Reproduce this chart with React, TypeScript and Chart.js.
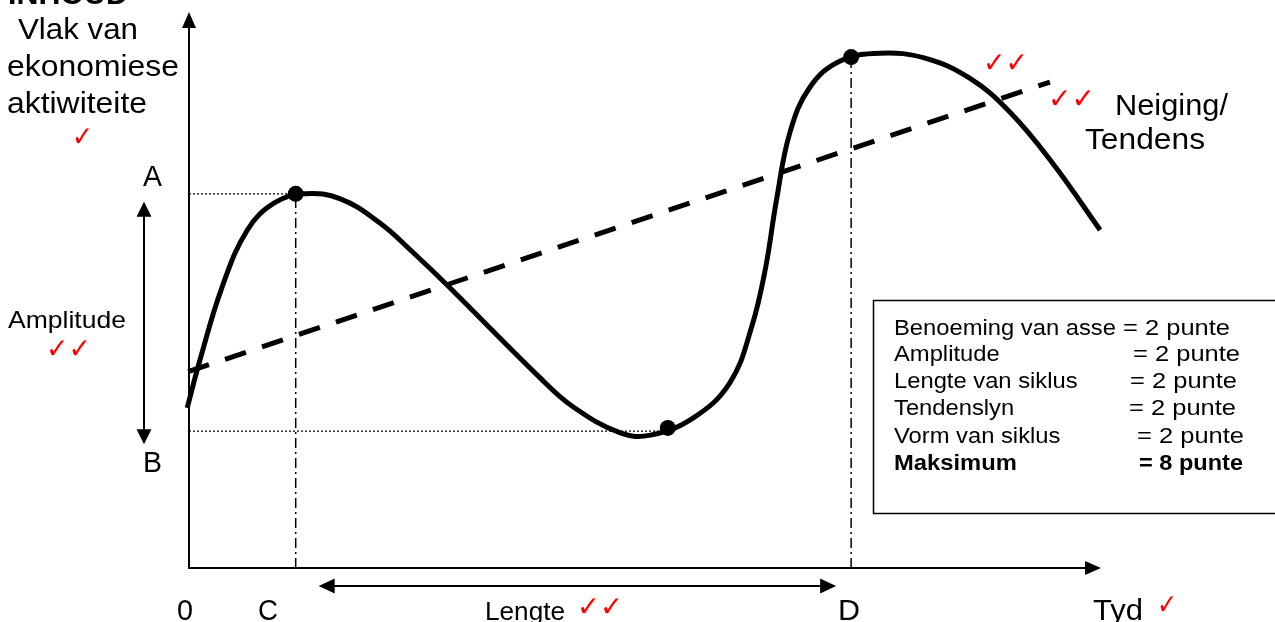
import React, { useEffect, useRef } from "react";
import { Chart, registerables } from "chart.js";

Chart.register(...registerables);

// ---- Data (time on x: 0..100, economic activity on y: 0..100) ----
const cycleX = [-0.2, 1.2, 3.6, 6.4, 9.4, 12.7, 16.6, 20.9, 24.6, 28.3, 38.5, 42.1, 47.3, 50.6, 55.3, 59.3, 61.7, 63.2, 64.4, 65.9, 68.1, 71.4, 75.8, 80.7, 85.6, 90.0, 94.7, 99.9];
const cycleY = [28.8, 37.4, 50.4, 60.8, 65.7, 67.3, 66.4, 62.1, 56.7, 50.9, 34.2, 29.0, 24.3, 23.9, 27.0, 33.3, 43.4, 53.8, 66.0, 78.4, 86.5, 91.2, 92.6, 91.7, 88.1, 82.0, 72.8, 60.8];

const trendX = [-0.1, 94.4];
const trendY = [35.3, 87.4];

const turningX = [11.7, 52.5, 72.6];
const turningY = [67.3, 25.2, 91.9];

const levelA = 67.3;
const levelB = 24.6;
const levelBEndX = 51.6;
const timeC = 11.7;
const timeD = 72.6;

const yAxisLabel = ["Vlak van", "ekonomiese", "aktiwiteite"];
const markRows = ["Benoeming van asse", "Amplitude", "Lengte van siklus", "Tendenslyn", "Vorm van siklus"];
const markPoints = ["= 2 punte", "= 2 punte", "= 2 punte", "= 2 punte", "= 2 punte"];
const markTotalLabel = "Maksimum";
const markTotal = "= 8 punte";

const FONT = '"Liberation Sans", Arial, sans-serif';
const CHECK_FONT = '"DejaVu Sans", sans-serif';

function txt(
  ctx: CanvasRenderingContext2D,
  s: string,
  x: number,
  y: number,
  size: number,
  o: { bold?: boolean; color?: string; width?: number; sx?: number; font?: string } = {}
) {
  ctx.save();
  ctx.font = `${o.bold ? "bold " : ""}${size}px ${o.font || FONT}`;
  ctx.fillStyle = o.color || "#000";
  ctx.textAlign = "left";
  ctx.textBaseline = "alphabetic";
  const w = ctx.measureText(s).width;
  const sx = o.width ? o.width / w : o.sx || 1;
  ctx.translate(x, y);
  ctx.scale(sx, 1);
  ctx.fillText(s, 0, 0);
  ctx.restore();
}

function check(ctx: CanvasRenderingContext2D, s: string, x: number, y: number, width: number) {
  txt(ctx, s, x, y, 28, { color: "#ff0000", width, font: CHECK_FONT });
}

function arrowHead(ctx: CanvasRenderingContext2D, tipX: number, tipY: number, dir: "up" | "down" | "left" | "right", len = 16, half = 7.5) {
  ctx.beginPath();
  ctx.moveTo(tipX, tipY);
  if (dir === "up") {
    ctx.lineTo(tipX - half, tipY + len);
    ctx.lineTo(tipX + half, tipY + len);
  } else if (dir === "down") {
    ctx.lineTo(tipX - half, tipY - len);
    ctx.lineTo(tipX + half, tipY - len);
  } else if (dir === "left") {
    ctx.lineTo(tipX + len, tipY - half);
    ctx.lineTo(tipX + len, tipY + half);
  } else {
    ctx.lineTo(tipX - len, tipY - half);
    ctx.lineTo(tipX - len, tipY + half);
  }
  ctx.closePath();
  ctx.fill();
}

const diagramPlugin = {
  id: "diagram",
  beforeDatasetsDraw(chart: any) {
    const ctx: CanvasRenderingContext2D = chart.ctx;
    const a = chart.chartArea;
    const xs = chart.scales.x;
    const ys = chart.scales.y;
    ctx.save();
    ctx.strokeStyle = "#000";
    ctx.fillStyle = "#000";
    // axes
    ctx.lineWidth = 2;
    ctx.beginPath();
    ctx.moveTo(a.left, a.top + 10);
    ctx.lineTo(a.left, a.bottom);
    ctx.lineTo(a.right - 10, a.bottom);
    ctx.stroke();
    arrowHead(ctx, a.left, a.top, "up", 16, 7);
    arrowHead(ctx, a.right, a.bottom, "right", 16, 7);

    // amplitude arrow
    const yA = ys.getPixelForValue(levelA);
    const yB = ys.getPixelForValue(levelB);
    const ax = a.left - 45;
    ctx.lineWidth = 2;
    ctx.beginPath();
    ctx.moveTo(ax, yA + 18);
    ctx.lineTo(ax, yB + 2);
    ctx.stroke();
    arrowHead(ctx, ax, yA + 8, "up", 15, 7.5);
    arrowHead(ctx, ax, yB + 13, "down", 15, 7.5);

    // length arrow
    const xC = xs.getPixelForValue(timeC);
    const xD = xs.getPixelForValue(timeD);
    const ly = a.bottom + 18;
    ctx.beginPath();
    ctx.moveTo(xC + 30, ly);
    ctx.lineTo(xD - 20, ly);
    ctx.stroke();
    arrowHead(ctx, xC + 23, ly, "left", 16, 7.5);
    arrowHead(ctx, xD - 15, ly, "right", 16, 7.5);
    ctx.restore();
  },
  afterDraw(chart: any) {
    const ctx: CanvasRenderingContext2D = chart.ctx;
    // title (cut off at top)
    txt(ctx, "INHOUD", 8, 4, 30, { bold: true, width: 120 });
    // y axis label
    txt(ctx, yAxisLabel[0], 18, 39, 30, { width: 120 });
    txt(ctx, yAxisLabel[1], 7, 76, 30, { width: 172 });
    txt(ctx, yAxisLabel[2], 7, 113, 30, { width: 140 });
    check(ctx, "✓", 72, 146, 21);

    txt(ctx, "A", 143, 186, 30, { width: 19 });
    txt(ctx, "B", 143, 472, 30, { width: 19 });
    txt(ctx, "Amplitude", 8, 328, 24, { width: 118 });
    check(ctx, "✓✓", 46, 358, 45);

    txt(ctx, "0", 177, 620, 30, { width: 16 });
    txt(ctx, "C", 258, 620, 30, { width: 20 });
    txt(ctx, "Lengte", 485, 620, 25, { width: 80 });
    check(ctx, "✓✓", 577, 616, 46);
    txt(ctx, "D", 838, 620, 30, { width: 22 });
    txt(ctx, "Tyd", 1093, 620, 30, { width: 50 });
    check(ctx, "✓", 1157, 614, 20);

    check(ctx, "✓✓", 983, 72, 45);
    check(ctx, "✓✓", 1048, 108, 47);
    txt(ctx, "Neiging/", 1115, 115, 30, { width: 113 });
    txt(ctx, "Tendens", 1085, 149, 30, { width: 120 });

    // marking box
    ctx.save();
    ctx.strokeStyle = "#000";
    ctx.lineWidth = 1.5;
    ctx.strokeRect(873.5, 300.5, 420, 213);
    ctx.restore();
    const rowsY = [335, 361, 388, 415, 443];
    const ptsX = [1123, 1133, 1130, 1129, 1137];
    markRows.forEach((r, i) => {
      txt(ctx, r, 894, rowsY[i], 22, { sx: 1.08 });
      txt(ctx, markPoints[i], ptsX[i], rowsY[i], 22, { width: 107 });
    });
    txt(ctx, markTotalLabel, 894, 470, 22, { bold: true, sx: 1.08 });
    txt(ctx, markTotal, 1139, 470, 22, { bold: true, width: 104 });
  },
};

export default function App() {
  const ref = useRef<HTMLCanvasElement | null>(null);
  useEffect(() => {
    document.body.style.margin = "0";
    const canvas = ref.current!;
    const pts = (xs: number[], ys: number[]) => xs.map((x, i) => ({ x, y: ys[i] }));
    const chart = new Chart(canvas, {
      type: "line",
      data: {
        datasets: [
          {
            data: pts(turningX, turningY),
            showLine: false,
            pointRadius: 8,
            pointBackgroundColor: "#000",
            pointBorderWidth: 0,
            order: 0,
            clip: false,
          } as any,
          {
            data: pts(cycleX, cycleY),
            borderColor: "#000",
            borderWidth: 5,
            tension: 0.4,
            capBezierPoints: false,
            pointRadius: 0,
            order: 1,
            clip: false,
          },
          {
            data: pts(trendX, trendY),
            borderColor: "#000",
            borderWidth: 5,
            borderDash: [22, 17],
            pointRadius: 0,
            tension: 0,
            order: 2,
            clip: false,
          },
          {
            data: [{ x: 0, y: levelA }, { x: timeC, y: levelA }],
            borderColor: "#000",
            borderWidth: 1.3,
            borderDash: [2, 2],
            pointRadius: 0,
            order: 3,
          },
          {
            data: [{ x: 0, y: levelB }, { x: levelBEndX, y: levelB }],
            borderColor: "#000",
            borderWidth: 1.3,
            borderDash: [2, 2],
            pointRadius: 0,
            order: 3,
          },
          {
            data: [{ x: timeC, y: 0 }, { x: timeC, y: levelA }],
            borderColor: "#000",
            borderWidth: 1.5,
            borderDash: [10, 4, 2, 4],
            pointRadius: 0,
            order: 3,
          },
          {
            data: [{ x: timeD, y: 0 }, { x: timeD, y: turningY[2] }],
            borderColor: "#000",
            borderWidth: 1.5,
            borderDash: [10, 4, 2, 4],
            pointRadius: 0,
            order: 3,
          },
        ],
      },
      options: {
        animation: false,
        responsive: false,
        devicePixelRatio: 1,
        layout: { padding: { left: 189, right: 174, top: 12, bottom: 54 } },
        plugins: { legend: { display: false }, tooltip: { enabled: false } },
        events: [],
        scales: {
          x: { type: "linear", min: 0, max: 100, display: false },
          y: { type: "linear", min: 0, max: 100, display: false },
        },
      },
      plugins: [diagramPlugin],
    });
    return () => chart.destroy();
  }, []);
  return (
    <div style={{ position: "fixed", left: 0, top: 0, width: 1275, height: 622, background: "#fff" }}>
      <canvas ref={ref} width={1275} height={622} style={{ display: "block" }} />
    </div>
  );
}
